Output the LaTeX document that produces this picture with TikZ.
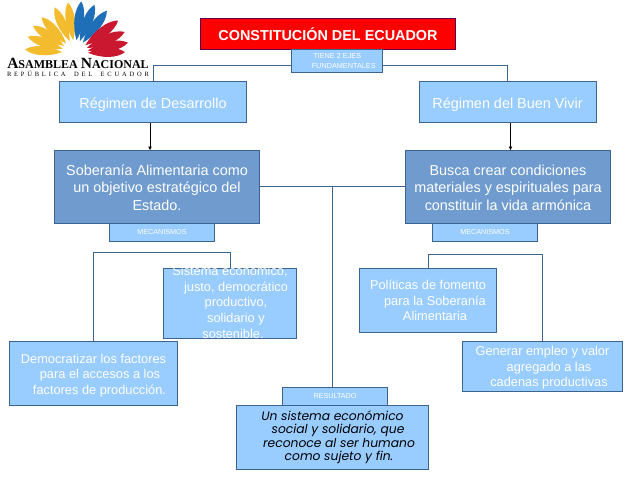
\documentclass[tikz,border=0pt]{standalone}
\usepackage{fontspec}
\setmainfont{Liberation Sans}
\newfontfamily\gothicfont{Poppins}
\newfontfamily\logofont{Liberation Serif}
\usetikzlibrary{arrows.meta,positioning,calc}
\definecolor{cielo}{HTML}{99CCFF}
\definecolor{acero}{HTML}{6F9BCF}
\definecolor{borde}{HTML}{3B6491}
\definecolor{amarillo}{HTML}{F3BC2E}
\definecolor{azul}{HTML}{1E6FB8}
\definecolor{rojo}{HTML}{C9182F}
\begin{document}
\begin{tikzpicture}[x=1pt,y=-1pt,every node/.style={outer sep=0pt,inner sep=0pt,align=center,text=white},box/.style={rectangle,draw=borde,fill=cielo,line width=.9pt},hub/.style={box,draw=red!55!blue!70!black,fill=red,minimum width=255pt,minimum height=31pt,font=\fontsize{14.4}{16}\selectfont\bfseries},regimen/.style={box,text height=26.5pt,text depth=14.5pt,minimum width=187pt,minimum height=41pt,font=\fontsize{14.4}{16}\selectfont},objetivo/.style={box,text height=59.5pt,text depth=13pt,fill=acero,minimum width=205pt,minimum height=72.5pt,font=\fontsize{14.4}{17.5}\selectfont},etiqueta/.style={box,minimum width=105pt,minimum height=18.5pt,font=\fontsize{7.2}{8}\selectfont},medio/.style={box,font=\fontsize{12.8}{15.6}\selectfont},link/.style={draw=borde,line width=.9pt},arrow/.style={-{Latex[length=4pt,width=4pt]},black,line width=.9pt}]
\useasboundingbox (0,0) rectangle (638,479);
\begin{scope}[shift={(75,53)},y=1pt]
\foreach \ang/\len/\col in {176/50/amarillo,161/50/amarillo,147/50/amarillo,133/49/amarillo,114/50/amarillo,98/51/amarillo,83/52/azul,68/52/azul,53/53/azul,37/54/rojo,23/54/rojo,11/54/rojo,1/50/rojo}
\fill[\col] (\ang:13) .. controls (\ang+13:\len*.55) and (\ang+8:\len*.85) .. (\ang:\len) .. controls (\ang-8:\len*.85) and (\ang-13:\len*.55) .. cycle;
\end{scope}
\node[text=black,font=\logofont\bfseries\fontsize{15.5}{16}\selectfont,anchor=base] (asamblea) at (78,68) {A{\fontsize{12}{16}\selectfont SAMBLEA }N{\fontsize{12}{16}\selectfont ACIONAL}};
\node[text=black,font=\logofont\fontsize{6.5}{8}\selectfont,anchor=base] (republica) at (78,76.5) {\makebox[142pt][s]{R\hfil E\hfil P\hfil Ú\hfil B\hfil L\hfil I\hfil C\hfil A\hfil\hfil\hfil D\hfil E\hfil L\hfil\hfil\hfil E\hfil C\hfil U\hfil A\hfil D\hfil O\hfil R}};
\node[hub] (constitucion) at (328,34) {CONSTITUCIÓN DEL ECUADOR};
\node[box,below=0pt of constitucion,xshift=8.75pt,minimum width=90.5pt,minimum height=23pt,font=\fontsize{7.3}{9.5}\selectfont,align=left] (ejes) {\hspace*{15.5pt}TIENE 2 EJES\\\hspace*{14pt}FUNDAMENTALES};
\node[regimen,below left=9pt and 45pt of ejes] (desarrollo) {Régimen de Desarrollo};
\node[regimen,below right=9pt and 37pt of ejes,minimum width=177pt] (buenvivir) {Régimen del Buen Vivir};
\node[objetivo,below=28pt of desarrollo,xshift=4pt] (soberania) {Soberanía Alimentaria como\\un objetivo estratégico del\\Estado.};
\node[objetivo,below=28pt of buenvivir,xshift=.5pt] (busca) {Busca crear condiciones\\materiales y espirituales para\\constituir la vida armónica};
\node[etiqueta,below=0pt of soberania,xshift=5pt] (mecanismosa) {MECANISMOS};
\node[etiqueta,below=0pt of busca,xshift=-23pt] (mecanismosb) {MECANISMOS};
\node[medio,below=26.5pt of mecanismosa,xshift=68pt,minimum width=133pt,minimum height=69pt,text height=70pt,text depth=-1pt] (sistema) {Sistema económico,\\\hspace*{12pt}justo, democrático\\\hspace*{12pt}productivo,\\\hspace*{12pt}solidario y\\\hspace*{6pt}sostenible.};
\node[medio,text height=53.3pt,text depth=10.7pt,below=99.5pt of mecanismosa,xshift=-68.5pt,minimum width=168pt,minimum height=64pt] (democratizar) {Democratizar los factores\\\hspace*{13pt}para el accesos a los\\\hspace*{12pt}factores de producción.};
\node[medio,text height=52.7pt,text depth=11.8pt,below=26.5pt of mecanismosb,xshift=-57pt,minimum width=137pt,minimum height=64.5pt] (politicas) {Políticas de fomento\\\hspace*{14pt}para la Soberanía\\\hspace*{14pt}Alimentaria};
\node[medio,text height=45.7pt,text depth=4.8pt,below=99.5pt of mecanismosb,xshift=57.5pt,minimum width=160pt,minimum height=50.5pt] (generar) {Generar empleo y valor\\\hspace*{13pt}agregado a las\\\hspace*{13pt}cadenas productivas};
\node[etiqueta,minimum height=18pt] (resultado) at (335,396.5) {RESULTADO};
\node[box,below=0pt of resultado,xshift=-2.5pt,minimum width=192pt,minimum height=63.5pt,text=black,font=\gothicfont\itshape\fontsize{12.3}{13.3}\selectfont] (unsistema) {Un sistema económico\\\hspace*{11pt}social y solidario, que\\\hspace*{13pt}reconoce al ser humano\\\hspace*{13pt}como sujeto y fin.};
\coordinate (cruce) at ($(soberania.east)!.5!(busca.west)$);
\draw[link] (ejes.west |- 0,65) -| (desarrollo.north);
\draw[link] (ejes.east |- 0,65) -| (buenvivir.north);
\draw[arrow] (desarrollo.south -| 150,0) -- (soberania.north -| 150,0);
\draw[arrow] (buenvivir.south -| 510.5,0) -- (busca.north -| 510.5,0);
\draw[link] (soberania) -- (busca);
\draw[link] (cruce) -- (cruce |- resultado.north);
\draw[link] (democratizar.north) -- ++(0,-89) -| (sistema.north);
\draw[link] (politicas.north) -- ++(0,-14) -| (generar.north);
\end{tikzpicture}
\end{document}
